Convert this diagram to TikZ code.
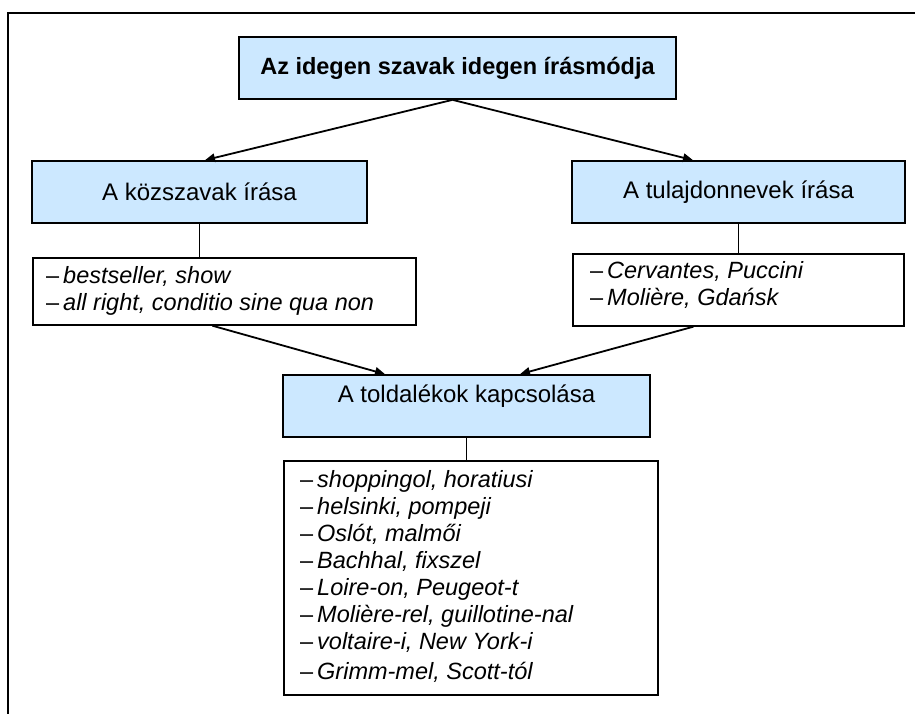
\documentclass[tikz,border=0pt]{standalone}
\usepackage{fontspec}
\setmainfont{Liberation Sans}
\usetikzlibrary{arrows.meta}
\definecolor{boxblue}{RGB}{204,232,255}
\tikzset{
  x=1pt, y=-1pt,
  headbox/.style={draw=black, line width=1.7pt, fill=boxblue, inner sep=0pt,
    font=\fontsize{24}{28}\selectfont},
  listbox/.style={draw=black, line width=1.7pt, fill=white, inner sep=0pt,
    anchor=north west},
  listtext/.style={anchor=north west, align=left, inner sep=0pt,
    font=\fontsize{23.5}{27}\selectfont\itshape},
  link/.style={line width=1.8pt, -{Triangle[length=10pt,width=8.5pt]}},
  stem/.style={line width=1.3pt},
}
\newcommand{\itm}[1]{\upshape–\,\itshape #1}
\begin{document}
\begin{tikzpicture}
  \useasboundingbox (0,0) rectangle (915,714);
  % frame along the top and left edges
  \draw[line width=2pt] (8,714) -- (8,13) -- (915,13);

  % heading boxes
  \node[headbox, minimum width=437pt, minimum height=62pt,
        font=\fontsize{23.5}{28}\selectfont\bfseries] (top) at (457.5,68)
        {Az idegen szavak idegen írásmódja};
  \node[headbox, minimum width=335pt, minimum height=62pt] (kozs) at (199.5,192)
        {A közszavak írása};
  \node[headbox, minimum width=333pt, minimum height=62pt] (tul) at (738.5,192)
        {A tulajdonnevek írása};
  \node[headbox, minimum width=367pt, minimum height=62pt,
        text height=17pt, text depth=25pt] (told) at (466.5,406)
        {A toldalékok kapcsolása};

  % example lists
  \node[listbox, minimum width=383pt, minimum height=67pt] (lst1) at (32,257) {};
  \node[listtext] (t1) at (46,266)
        {\itm{bestseller, show}\\
         \itm{all right, conditio sine qua non}};

  \node[listbox, minimum width=331pt, minimum height=72pt] (lst2) at (572,253) {};
  \node[listtext] (t2) at (590,261)
        {\itm{Cervantes, Puccini}\\
         \itm{Molière, Gdańsk}};

  \node[listbox, minimum width=374pt, minimum height=234pt] (lst3) at (283,460) {};
  \node[listtext] (t3) at (300,470)
        {\itm{shoppingol, horatiusi}\\
         \itm{helsinki, pompeji}\\
         \itm{Oslót, malmői}\\
         \itm{Bachhal, fixszel}\\
         \itm{Loire-on, Peugeot-t}\\
         \itm{Molière-rel, guillotine-nal}\\
         \itm{voltaire-i, New York-i}\\[3pt]
         \itm{Grimm-mel, Scott-tól}};

  % arrows between the heading boxes
  \draw[link] ([xshift=-5pt]top.south) -- ([xshift=5.5pt]kozs.north);
  \draw[link] ([xshift=-5pt]top.south) -- ([xshift=-45.5pt]tul.north);
  \draw[link] ([xshift=-12pt]lst1.south) -- ([xshift=-81.5pt]told.north);
  \draw[link] ([xshift=-45pt]lst2.south) -- ([xshift=53.5pt]told.north);

  % stems from headings to their lists
  \draw[stem] (kozs.south) -- (kozs.south |- lst1.north);
  \draw[stem] (tul.south) -- (tul.south |- lst2.north);
  \draw[stem] (told.south) -- (told.south |- lst3.north);
\end{tikzpicture}
\end{document}
